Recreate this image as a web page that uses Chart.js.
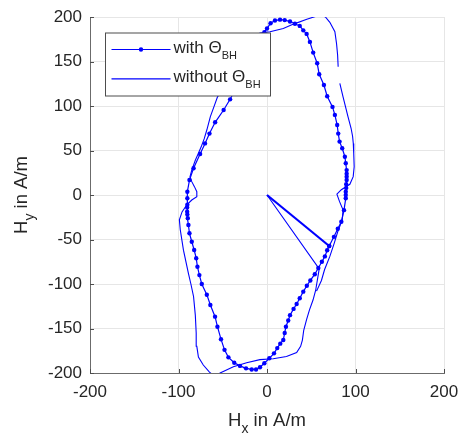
<!DOCTYPE html>
<html>
<head>
<meta charset="utf-8">
<script src="https://cdn.jsdelivr.net/npm/chart.js@4.4.1/dist/chart.umd.min.js"></script>
<style>
  html, body { margin: 0; padding: 0; background: #fff; }
  #wrap { width: 462px; height: 439px; }
</style>
</head>
<body>
<div id="wrap"><canvas id="c" width="462" height="439"></canvas></div>
<script>
// ticks
const xTicks = [-200, -100, 0, 100, 200];
const yTicks = [-200, -150, -100, -50, 0, 50, 100, 150, 200];

// series names (main text + subscript)
const seriesNames = ["with \u0398", "without \u0398"];
const seriesSub = "BH";

// "with Θ_BH" trajectory
const withX = [0, 70.3, 75.6, 80, 84, 87, 89, 89, 89, 89.5, 89.5, 90, 90, 90, 90, 89, 88, 85, 82, 80.5,
  79.3, 76.7, 74, 68, 64.3, 59, 56.7, 52.2, 48.5, 44.8, 41, 37, 31.6, 26, 20, 14.7, 9, 4, 0, -3,
  -8, -14, -20, -26, -31, -36, -41.7, -49, -58.6, -65, -70, -75.6, -83, -87.6, -90, -90, -90, -90.2,
  -90.2, -90, -89.5, -88.8, -87.6, -85, -82.3, -80, -78.6, -76.4, -73.7, -68, -64, -58.7, -56, -52,
  -48, -43.6, -37, -30.5, -23.7, -17.3, -12.4, -7.9, -3, 2.6, 7.9, 11.6, 15, 18.4, 20, 21.4, 24, 26,
  30, 33.5, 37, 41, 45, 49, 54, 58, 62, 65.4, 68, 70.3];
const withY = [0, -57.3, -47, -38, -30, -17, -3.7, 0, 3.7, 8, 12, 16.8, 20.6, 24, 28, 35.6, 43, 52.5, 60, 69,
  78.6, 90, 99, 111, 123.6, 135.6, 148, 160, 172, 181, 185, 190, 192.5, 195, 196.5, 197, 196, 193, 187, 183,
  174, 162, 150, 139, 128, 118, 107.5, 95.5, 81.7, 69, 58, 46, 30, 16.8, 3.7, -3.7, -11, -14,
  -18.7, -22, -26, -33.7, -43, -52.5, -61.8, -71, -80.6, -90, -100, -112, -123.6, -136.7, -148, -162,
  -174, -182.4, -188.4, -192, -194.8, -196, -196, -193.6, -189, -183.5, -177.9, -172, -167, -163, -155, -148, -141, -135,
  -128, -122.5, -116, -108.6, -102, -96, -89, -82, -75, -69, -62, -57.3];

// "without Θ_BH" trajectory (null = gap in the measured curve)
const withoutX = [0, 59, 55, 52, 48, 44.7, 41.5, 40, 38, 33.5, 22, 7, -8, -23, -38, -53, -59, -65, -72, -77.5,
  -79.3, -80, -81, -83, -86, -88.8, -94.4, -98, -99, -96, -90.6, -85, -79.3, -79.3, -82, -85, -87, -85, -81, -77.5,
  -74, -71, -68, -64, -60, -56, -45, -35, -25, -15, -8, 3.4, 18.4, 30, 45, 56, 62, 66, 71, 76.7,
  78.6, 79.8, 80.4, null, 82.3, 86, 91.5, 95, 96.7, 97.5, 98, 98.5, 97.4, 93.6, 84, 79, 82, 86, 85, 80,
  76, 71, 65, 61.5, 56];
const withoutY = [0, -83, -107, -118, -129, -140, -152, -163, -170, -177, -181.5, -184, -185, -188.4, -193, -200, -204, -199, -191, -182,
  -170, -155, -135, -114, -100, -88, -62, -39, -28, -19, -11, -5.6, -1.9, 3.7, 9.4, 15, 20.6, 28, 39, 47,
  55, 63, 73, 88, 99, 110, 128, 145, 162, 175, 182, 183.5, 187, 192, 197.5, 201, 202, 200, 194, 183.5,
  170, 157, 144, null, 125.5, 110, 88, 75, 66, 58, 47, 31.8, 20.6, 12, 6, 1, -7.5, -17, -28, -41,
  -54, -69, -84, -96, -108];

const toPts = (xs, ys) => xs.map((x, i) => (x === null ? { x: null, y: null } : { x: x, y: ys[i] }));

const FONT = "'Liberation Sans', Arial, Helvetica, sans-serif";
const BLUE = "rgb(0,0,255)";
const TXT = "#262626";

// draws text runs: [text, size, baselineShift]
function runsWidth(ctx, runs) {
  let w = 0;
  for (const r of runs) { ctx.font = r[1] + "px " + FONT; w += ctx.measureText(r[0]).width; }
  return w;
}
function drawRuns(ctx, runs, x, y) {
  for (const r of runs) {
    ctx.font = r[1] + "px " + FONT;
    ctx.fillText(r[0], x, y + r[2]);
    x += ctx.measureText(r[0]).width;
  }
}

const decor = {
  id: "decor",
  afterDraw(chart) {
    const ctx = chart.ctx;
    const a = chart.chartArea;
    const sx = chart.scales.x, sy = chart.scales.y;
    ctx.save();
    // inward tick marks
    ctx.strokeStyle = "#4d4d4d";
    ctx.lineWidth = 1;
    ctx.beginPath();
    xTicks.forEach(v => {
      const px = Math.round(sx.getPixelForValue(v)) + 0.5;
      ctx.moveTo(px, a.bottom); ctx.lineTo(px, a.bottom - 4);
    });
    yTicks.forEach(v => {
      const py = Math.round(sy.getPixelForValue(v)) + 0.5;
      ctx.moveTo(a.left, py); ctx.lineTo(a.left + 4, py);
    });
    ctx.stroke();

    // legend box
    const lx = a.left + 15.5, ly = a.top + 16, lw = 165, lh = 63;
    ctx.fillStyle = "#fff";
    ctx.fillRect(lx, ly, lw, lh);
    ctx.strokeStyle = "#4d4d4d";
    ctx.strokeRect(lx, ly, lw, lh);
    seriesNames.forEach((name, i) => {
      const cy = ly + 16.5 + i * 29.4;
      ctx.strokeStyle = BLUE;
      ctx.lineWidth = 1.2;
      ctx.beginPath(); ctx.moveTo(lx + 6, cy); ctx.lineTo(lx + 65, cy); ctx.stroke();
      if (i === 0) {
        ctx.fillStyle = BLUE;
        ctx.beginPath(); ctx.arc(lx + 35.5, cy, 2.2, 0, Math.PI * 2); ctx.fill();
      }
      ctx.fillStyle = TXT;
      ctx.textBaseline = "alphabetic";
      ctx.textAlign = "left";
      drawRuns(ctx, [[name, 17, 0], [seriesSub, 11, 5.5]], lx + 68, cy + 3.5);
    });

    // axis titles
    ctx.fillStyle = TXT;
    const xr = [["H", 18.5, 0], ["x", 14, 7], [" in A/m", 18.5, 0]];
    const xw = runsWidth(ctx, xr);
    drawRuns(ctx, xr, (a.left + a.right) / 2 - xw / 2, 426);

    const yr = [["H", 18.5, 0], ["y", 14, 7], [" in A/m", 18.5, 0]];
    const yw = runsWidth(ctx, yr);
    ctx.translate(27, (a.top + a.bottom) / 2);
    ctx.rotate(-Math.PI / 2);
    drawRuns(ctx, yr, -yw / 2, 0);
    ctx.restore();
  }
};

new Chart(document.getElementById("c"), {
  type: "scatter",
  data: {
    datasets: [
      {
        label: "without",
        data: toPts(withoutX, withoutY),
        showLine: true,
        borderColor: BLUE,
        borderWidth: 1.1,
        pointRadius: 0,
        spanGaps: false,
        tension: 0
      },
      {
        label: "with",
        data: toPts(withX, withY),
        showLine: true,
        borderColor: BLUE,
        backgroundColor: BLUE,
        borderWidth: 1.2,
        pointRadius: c => (c.dataIndex === 0 ? 0 : 2.2),
        pointBorderWidth: 0,
        tension: 0,
        segment: { borderWidth: c => (c.p0DataIndex === 0 ? 2.2 : 1.2) }
      }
    ]
  },
  options: {
    responsive: false,
    animation: false,
    devicePixelRatio: 1,
    layout: { padding: { left: 0, right: 18, top: 17, bottom: 0 } },
    plugins: { legend: { display: false }, tooltip: { enabled: false } },
    scales: {
      x: {
        type: "linear",
        min: -200, max: 200,
        afterBuildTicks: s => { s.ticks = xTicks.map(v => ({ value: v })); },
        afterFit: s => { s.height = 66; s.paddingLeft = 0; s.paddingRight = 0; },
        grid: { color: "#e6e6e6", drawTicks: false },
        border: { color: "#6b6b6b" },
        ticks: { color: TXT, font: { family: FONT, size: 17 }, padding: 9, maxRotation: 0, autoSkip: false }
      },
      y: {
        type: "linear",
        min: -200, max: 200,
        afterBuildTicks: s => { s.ticks = yTicks.map(v => ({ value: v })); },
        afterFit: s => { s.width = 90; s.paddingTop = 0; s.paddingBottom = 0; },
        grid: { color: "#e6e6e6", drawTicks: false },
        border: { color: "#6b6b6b" },
        ticks: { color: TXT, font: { family: FONT, size: 17 }, padding: 8, autoSkip: false }
      }
    }
  },
  plugins: [decor]
});
</script>
</body>
</html>
